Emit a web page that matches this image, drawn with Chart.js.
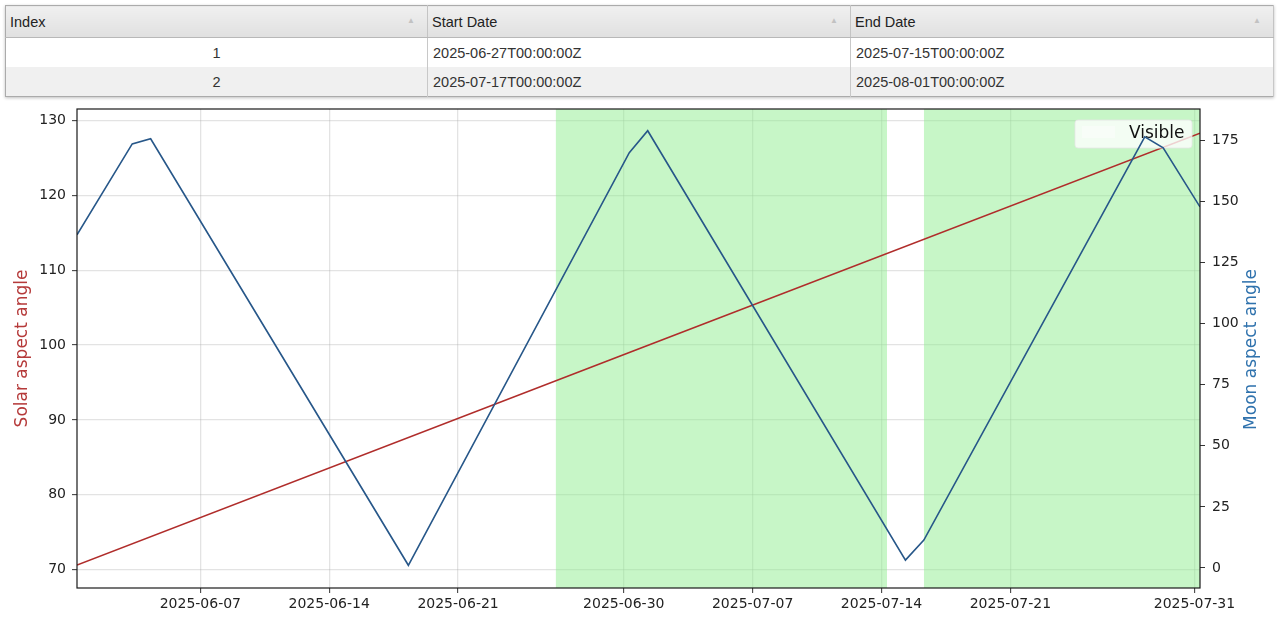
<!DOCTYPE html>
<html><head><meta charset="utf-8">
<script src="https://cdn.jsdelivr.net/npm/chart.js@4.4.1/dist/chart.umd.min.js"></script>
<style>
html,body{margin:0;padding:0;background:#fff;width:1280px;height:620px;overflow:hidden;}
#tbl{position:absolute;left:5px;top:5px;width:1268px;border-collapse:collapse;table-layout:fixed;font-family:'Liberation Sans',Arial,sans-serif;font-size:14.5px;color:#333;border:1px solid #ababab;box-shadow:0 1px 3px rgba(0,0,0,0.25);}
#tbl th{height:31px;padding:0 4px;text-align:left;font-weight:normal;color:#222;background:linear-gradient(#f0f0f0,#e0e0e0);border-right:1px solid #c4c4c4;border-bottom:1px solid #b8b8b8;position:relative;}
#tbl th .s{position:absolute;right:12px;top:10px;font-size:8px;color:#c2c2c2;}
#tbl td{height:29px;padding:0 5px;border-right:1px solid #c8c8c8;}
#tbl td.c{text-align:center;}
#tbl tr.odd td{background:#fff;}
#tbl tr.even td{background:#f0f0f0;}
#wrap{position:absolute;left:0;top:100px;width:1280px;height:520px;}
#c{display:block;}
</style></head>
<body>
<table id="tbl"><colgroup><col style="width:422px"><col style="width:423px"><col style="width:423px"></colgroup><thead><tr id="hdr"></tr></thead><tbody id="rows"></tbody></table>
<div id="wrap"><canvas id="c" width="1280" height="520"></canvas></div>
<script>
// ---- data ----
const tableColumns = ['Index', 'Start Date', 'End Date'];
const visibleStart = ['2025-06-27T00:00:00Z', '2025-07-17T00:00:00Z'];
const visibleEnd = ['2025-07-15T00:00:00Z', '2025-08-01T00:00:00Z'];
const epochDate = '2025-06-01T00:00:00Z';
const xRangeDays = [0, 61];
const xTickLabels = ['2025-06-07', '2025-06-14', '2025-06-21', '2025-06-30', '2025-07-07', '2025-07-14', '2025-07-21', '2025-07-31'];
const xTickOffsetDays = 0.7;
const solarDays = [0, 30, 61];
const solarAngle = [70.6, 99.0, 128.3];
const moonDays = [0, 3, 4, 18, 30, 31, 45, 46, 58, 59, 61];
const moonAngle = [136.4, 173.6, 175.7, 1.1, 170.0, 179.0, 3.2, 11.4, 176.5, 172.0, 147.8];
const solarTicks = [70, 80, 90, 100, 110, 120, 130];
const moonTicks = [0, 25, 50, 75, 100, 125, 150, 175];
const solarRange = [67.54, 131.53];
const moonRange = [-8.2, 187.9];

// ---- table ----
const sortMarks = ['\u25B2', '\u25B2', '\u25B2'];
document.getElementById('hdr').innerHTML = tableColumns.map((c, i) => `<th>${c}<span class="s">${sortMarks[i]}</span></th>`).join('');
document.getElementById('rows').innerHTML = visibleStart.map((s, i) =>
  `<tr class="${i % 2 ? 'even' : 'odd'}"><td class="c">${i + 1}</td><td>${s}</td><td>${visibleEnd[i]}</td></tr>`).join('');

// ---- chart ----
const DAY = 86400000;
const toDay = s => (Date.parse(s) - Date.parse(epochDate)) / DAY;
const labelToDay = l => toDay(l + 'T00:00:00Z') + xTickOffsetDays;
const xTickPos = xTickLabels.map(labelToDay);

const FONT = 'DejaVu Sans';
const RED = '#b02d2b', RED_T = '#b53a3a';
const BLUE = '#275789', BLUE_T = '#2f72ad';
const GREEN = 'rgba(144,238,144,0.5)';
const GRID = 'rgba(176,176,176,0.35)';

const bandSets = visibleStart.map((s, i) => ({
  label: i === 0 ? 'Visible' : '',
  data: [{x: toDay(s), y: 1}, {x: toDay(visibleEnd[i]), y: 1}],
  yAxisID: 'yb', fill: 'start', backgroundColor: GREEN,
  borderColor: 'transparent', borderWidth: 0, pointRadius: 0, order: 3
}));

const framePlugin = {
  id: 'frameLegend',
  afterDatasetDraw(chart, args) {
    if (args.index !== visibleStart.length) return; // after solar line, before moon line
    const c = chart.ctx, a = chart.chartArea;
    const bw = 117, bh = 28, bx = a.right - 8 - bw, by = a.top + 11;
    c.save();
    c.beginPath();
    c.roundRect(bx, by, bw, bh, 3);
    c.fillStyle = 'rgba(255,255,255,0.78)';
    c.fill();
    c.strokeStyle = 'rgba(230,230,230,0.8)';
    c.lineWidth = 1;
    c.stroke();
    c.fillStyle = 'rgba(255,255,255,0.45)';
    c.fillRect(bx + 7, by + 6, 33, 12);
    c.fillStyle = '#111';
    c.font = '17px "' + FONT + '"';
    c.textBaseline = 'alphabetic';
    c.textAlign = 'left';
    c.fillText(bandSets[0].label, bx + 54, by + 18);
    c.restore();
  },
  afterDraw(chart) {
    const c = chart.ctx, a = chart.chartArea;
    c.save();
    c.strokeStyle = '#1a1a1a';
    c.lineWidth = 1.2;
    c.strokeRect(a.left, a.top, a.right - a.left, a.bottom - a.top);
    c.translate(1252, (a.top + a.bottom) / 2 + 1);
    c.rotate(-Math.PI / 2);
    c.fillStyle = BLUE_T;
    c.font = '17px "' + FONT + '"';
    c.textAlign = 'center';
    c.textBaseline = 'middle';
    c.fillText('Moon aspect angle', 0, 0);
    c.restore();
  }
};

const fitV = w => s => { s.width = w; s.paddingTop = 0; s.paddingBottom = 0; };
const tickFont = {family: FONT, size: 14};
new Chart(document.getElementById('c'), {
  type: 'line',
  data: {
    datasets: [
      ...bandSets,
      {label: 'Solar aspect angle', data: solarDays.map((d, i) => ({x: d, y: solarAngle[i]})),
       yAxisID: 'y', borderColor: RED, borderWidth: 1.6, pointRadius: 0, fill: false, order: 1},
      {label: 'Moon aspect angle', data: moonDays.map((d, i) => ({x: d, y: moonAngle[i]})),
       yAxisID: 'y2', borderColor: BLUE, borderWidth: 1.6, pointRadius: 0, fill: false, order: 0}
    ]
  },
  options: {
    responsive: false, animation: false, maintainAspectRatio: false,
    layout: {padding: {top: 9, left: 0, right: 0, bottom: 0}},
    plugins: {legend: {display: false}, tooltip: {enabled: false}},
    elements: {line: {tension: 0}},
    scales: {
      x: {
        type: 'linear', min: xRangeDays[0], max: xRangeDays[1],
        afterBuildTicks: s => { s.ticks = xTickPos.map(v => ({value: v})); },
        afterFit: s => { s.height = 32; s.paddingLeft = 0; s.paddingRight = 0; },
        ticks: {autoSkip: false, maxRotation: 0, minRotation: 0, font: tickFont, color: '#222', padding: 3,
                callback: (v, i) => xTickLabels[i]},
        grid: {color: GRID, lineWidth: 1.3, tickColor: '#333', tickLength: 5, tickWidth: 1},
        border: {display: false}
      },
      y: {
        position: 'left', min: solarRange[0], max: solarRange[1],
        afterBuildTicks: s => { s.ticks = solarTicks.map(v => ({value: v})); },
        afterFit: fitV(77),
        ticks: {font: tickFont, color: '#222', padding: 6},
        grid: {color: GRID, lineWidth: 1.3, tickColor: '#333', tickLength: 5, tickWidth: 1},
        border: {display: false},
        title: {display: true, text: 'Solar aspect angle', color: RED_T, font: {family: FONT, size: 17}, padding: {top: 12, bottom: 0}}
      },
      y2: {
        position: 'right', min: moonRange[0], max: moonRange[1],
        afterBuildTicks: s => { s.ticks = moonTicks.map(v => ({value: v})); },
        afterFit: fitV(80),
        ticks: {font: tickFont, color: '#222', padding: 7},
        grid: {drawOnChartArea: false, tickColor: '#333', tickLength: 5, tickWidth: 1},
        border: {display: false}
      },
      yb: {display: false, min: 0, max: 1}
    }
  },
  plugins: [framePlugin]
});
</script>
</body></html>
